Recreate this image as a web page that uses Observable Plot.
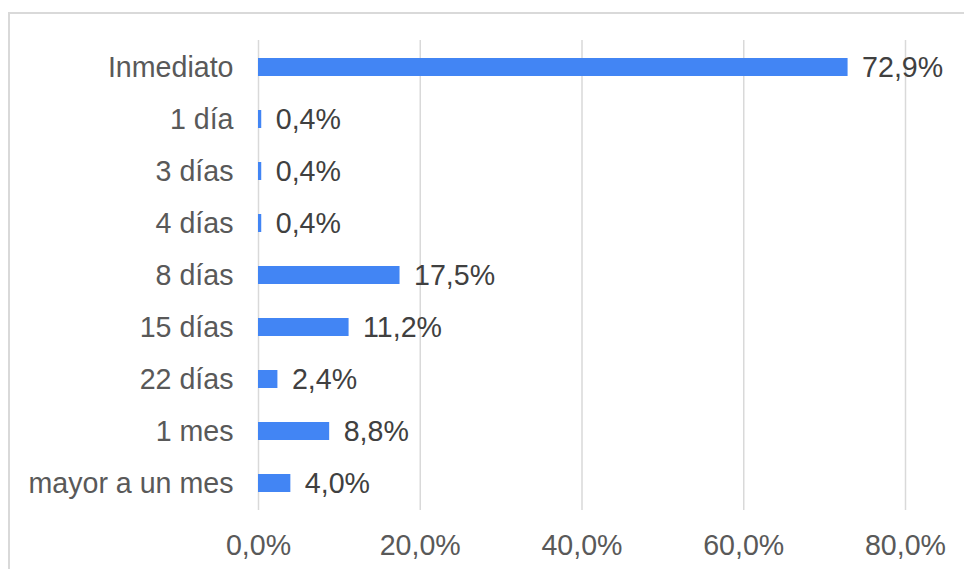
<!DOCTYPE html>
<html>
<head>
<meta charset="utf-8">
<script src="https://cdn.jsdelivr.net/npm/d3@7"></script>
<script src="https://cdn.jsdelivr.net/npm/@observablehq/plot@0.6"></script>
<style>
  html, body { margin: 0; padding: 0; background: #fff; }
  #wrap { position: relative; width: 964px; height: 569px; overflow: hidden; }
  #border { position: absolute; left: 8px; top: 12px; width: 1000px; height: 600px;
            border-left: 2px solid #d9d9d9; border-top: 2px solid #d9d9d9; box-sizing: border-box; }
  #chart { position: absolute; left: 0; top: 0; }
</style>
</head>
<body>
<div id="wrap"><div id="border"></div><div id="chart"></div></div>
<script>
const categories = ["Inmediato", "1 día", "3 días", "4 días", "8 días", "15 días", "22 días", "1 mes", "mayor a un mes"];
const values = [72.9, 0.4, 0.4, 0.4, 17.5, 11.2, 2.4, 8.8, 4.0];
const xTicks = [0, 20, 40, 60, 80];

const data = categories.map((c, i) => ({category: c, value: values[i]}));
const fmt = v => v.toFixed(1).replace(".", ",") + "%";

const chart = Plot.plot({
  width: 964,
  height: 569,
  marginLeft: 258,
  marginRight: 59,
  marginTop: 40,
  marginBottom: 59,
  style: {fontFamily: "'Liberation Sans', Arial, sans-serif", fontSize: "28.6px", background: "transparent"},
  x: {domain: [0, 80], ticks: xTicks},
  y: {domain: categories, paddingInner: 0.655, paddingOuter: 0.3275},
  marks: [
    Plot.gridX(xTicks, {stroke: "#d9d9d9", strokeOpacity: 1, strokeWidth: 1.5}),
    Plot.axisX({ticks: xTicks, tickSize: 0, tickPadding: 24, tickFormat: fmt, fill: "#595959", label: null, fontSize: 28.6}),
    Plot.axisY({tickSize: 0, tickPadding: 25, fill: "#595959", label: null, fontSize: 28.6}),
    Plot.barX(data, {x: "value", y: "category", fill: "#4285f4"}),
    Plot.text(data, {x: "value", y: "category", text: d => fmt(d.value), textAnchor: "start", dx: 14, fill: "#404040", fontSize: 28.6})
  ]
});
document.getElementById("chart").appendChild(chart);
</script>
</body>
</html>
